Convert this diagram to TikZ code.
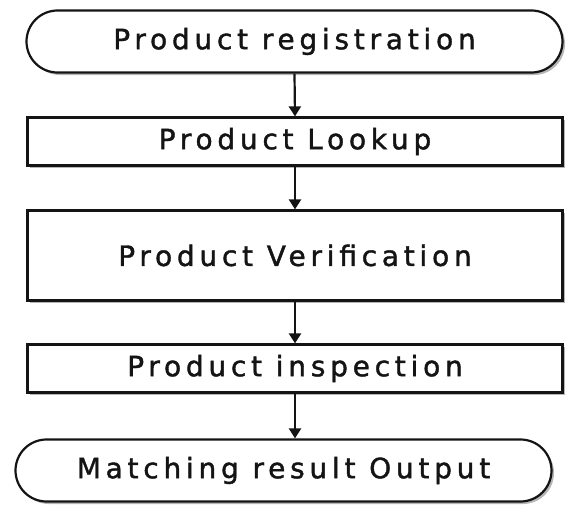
\documentclass[tikz,border=0pt]{standalone}
\usepackage{fontspec}
\setmainfont{DejaVu Sans}[LetterSpace=17, FakeBold=1.4]
\usepackage{tikz}
\usetikzlibrary{shapes.misc,arrows.meta,shadows}
\usepackage{xcolor}
\definecolor{InkBlack}{RGB}{20, 20, 20}
\definecolor{ShadowGray}{RGB}{110, 110, 110}

\begin{document}
\begin{tikzpicture}[x=1pt, y=-1pt,
    every node/.style={align=center, text=InkBlack, font=\fontsize{28}{34}\selectfont},
    stepbox/.style={draw=InkBlack, line width=2.2pt, fill=white, inner sep=0pt,
      minimum width=535pt, drop shadow={shadow xshift=2.5pt, shadow yshift=-2.5pt, fill=ShadowGray, opacity=0.5}},
    termbox/.style={stepbox, rounded rectangle, rounded rectangle arc length=180,
      minimum width=536pt, minimum height=62pt},
    flow/.style={draw=InkBlack, line width=2.2pt, -{Triangle[width=12pt, length=10pt]}}]
  \useasboundingbox (0, 0) rectangle (566, 506);
  % Flow steps
  \node[termbox] (reg) at (294.5, 41.5) {Product registration};
  \node[stepbox, minimum height=48pt] (lookup) at (295, 141.5) {Product Lookup};
  \node[stepbox, minimum height=90pt] (verif) at (295, 255.5) {Product Verification};
  \node[stepbox, minimum height=48pt] (insp) at (295, 368.5) {Product inspection};
  \node[termbox] (out) at (283.5, 470.5) {Matching result Output};
  % Connectors
  \draw[flow] (reg.south) -- (lookup.north);
  \draw[flow] (lookup.south) -- (verif.north);
  \draw[flow] (verif.south) -- (insp.north);
  \draw[flow] (insp.south) -- (insp.south |- out.north);
\end{tikzpicture}
\end{document}
